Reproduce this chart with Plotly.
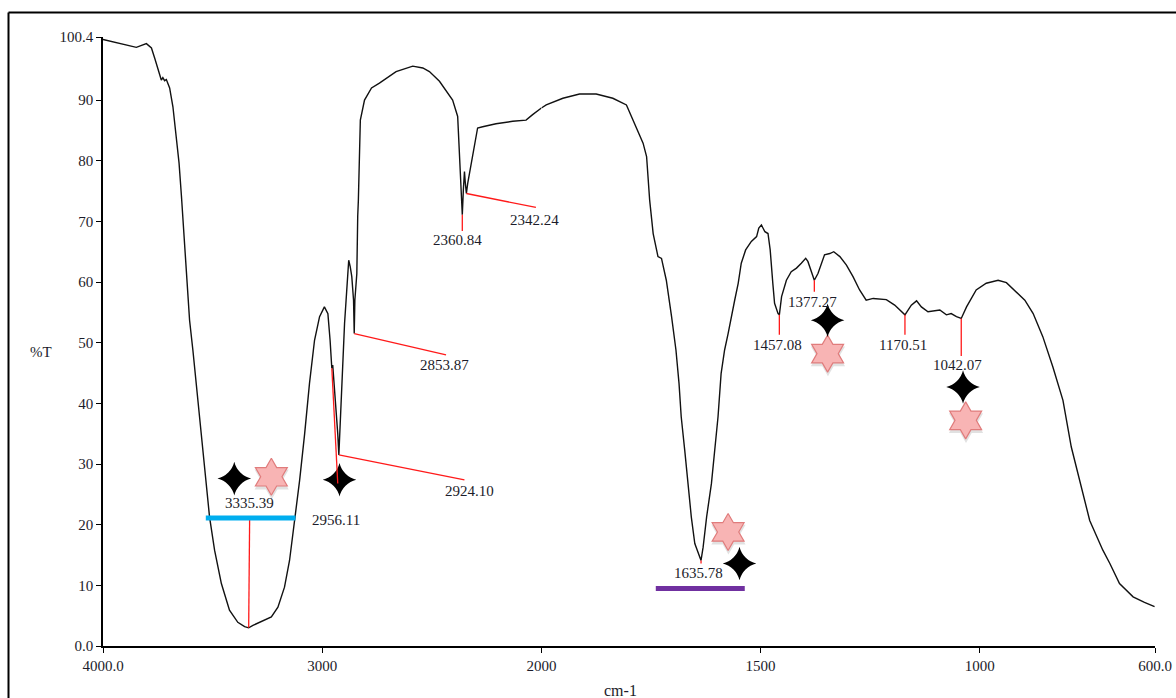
import plotly.graph_objects as go
from plotly.subplots import make_subplots

# ---------------- spectrum (wavenumber cm-1, %T) ----------------
wavenumber = [
    4000, 3939, 3893, 3848, 3802, 3779, 3764, 3749, 3734, 3727, 3719, 3711, 3705,
    3696, 3681, 3665, 3653, 3642, 3632, 3623, 3615, 3605, 3590, 3567, 3536, 3514,
    3491, 3460, 3423, 3385, 3354, 3335.39, 3316, 3271, 3232, 3202, 3172, 3149,
    3126, 3103, 3080, 3058, 3035, 3012, 2990, 2974, 2964, 2960, 2956.11, 2952,
    2943, 2936, 2929, 2924.10, 2917, 2906, 2898, 2891, 2883, 2879, 2872, 2865,
    2857, 2853.87, 2851, 2842, 2838, 2835, 2826, 2807, 2775, 2739, 2663, 2587,
    2541, 2511, 2465, 2405, 2382, 2374, 2367, 2360.84, 2356, 2351, 2347, 2342.24,
    2336, 2314, 2291, 2268, 2207, 2131, 2070, 2040, 2000,
    1989, 1951, 1913, 1875, 1837, 1806, 1791, 1768, 1760, 1753, 1745, 1734, 1726,
    1715, 1703, 1693, 1686, 1681, 1673, 1666, 1658, 1650, 1635.78, 1631, 1623,
    1612, 1605, 1597, 1590, 1582, 1574, 1567, 1559, 1551, 1544, 1534, 1521, 1509,
    1504, 1498, 1490, 1483, 1478, 1472, 1468, 1460, 1457.08, 1452, 1441, 1430,
    1418, 1407, 1397, 1392, 1386, 1377.27, 1369, 1361, 1354, 1342, 1333, 1319,
    1304, 1289, 1274, 1259, 1243, 1213, 1194, 1170.51, 1156, 1144, 1133, 1118,
    1091, 1076, 1065, 1053, 1042.07, 1030, 1008, 985, 958, 939, 916, 897, 878,
    856, 833, 810, 791, 772, 749, 719, 703, 681, 650, 624, 601,
]
transmittance = [
    100.0, 99.5, 99.1, 98.7, 99.3, 98.6, 96.9, 95.0, 93.3, 93.7, 93.2, 93.4, 92.7,
    92.0, 88.9, 84.0, 79.6, 74.1, 68.6, 63.1, 57.6, 53.7, 48.8, 40.5, 29.5, 21.3,
    15.8, 10.3, 5.9, 3.9, 3.2, 3.0, 3.4, 4.2, 4.8, 6.4, 9.7, 14.1,
    20.7, 27.3, 35.0, 43.3, 50.4, 54.3, 55.9, 54.8, 50.4, 47.5, 45.8, 46.3,
    42.0, 39.4, 35.0, 31.5, 37.8, 46.0, 53.2, 57.0, 62.5, 63.6, 62.5, 60.9,
    57.0, 51.5, 57.0, 61.4, 70.8, 73.5, 86.7, 90.0, 92.0, 92.8, 94.7, 95.6,
    95.3, 94.7, 93.1, 90.0, 87.3, 81.8, 75.2, 71.1, 75.2, 78.2, 76.3, 74.6,
    76.3, 80.7, 85.4, 85.6, 86.1, 86.5, 86.7, 87.6, 88.7,
    89.2, 90.3, 91.0, 91.0, 90.3, 89.2, 86.7, 82.9, 80.7, 73.5, 68.0, 64.2, 63.9,
    60.3, 54.3, 48.8, 43.3, 37.8, 32.3, 26.8, 21.3, 16.9, 14.1, 16.3, 21.3,
    26.8, 32.3, 37.8, 44.9, 48.8, 51.5, 54.3, 57.0, 59.8, 63.1, 65.3, 66.7, 67.5,
    68.9, 69.4, 68.3, 68.0, 65.3, 59.8, 56.5, 54.8, 54.6, 57.6, 60.3, 61.7,
    62.3, 63.1, 63.9, 63.4, 62.0, 60.3, 61.4, 63.1, 64.5, 64.7, 65.0, 64.2,
    62.8, 60.9, 58.7, 57.0, 57.3, 57.1, 56.2, 54.6, 56.2, 56.9, 55.9, 55.1,
    55.4, 54.6, 54.8, 54.3, 54.0, 55.9, 58.7, 59.8, 60.3, 59.9, 58.4, 57.0, 54.8,
    51.0, 46.0, 40.5, 32.8, 27.3, 20.7, 15.8, 13.6, 10.3, 8.1, 7.2, 6.5,
]

# ---------------- labelled peaks ----------------
peak_labels = ["3335.39", "2956.11", "2924.10", "2853.87", "2360.84", "2342.24",
               "1635.78", "1457.08", "1377.27", "1170.51", "1042.07"]
peak_wn = [float(s) for s in peak_labels]
peak_T = [3.0, 45.8, 31.5, 51.5, 71.1, 74.6, 14.1, 54.6, 60.3, 54.6, 54.0]

# leader line end points and label anchors
leader_end_wn = [3331, 2929, 2351, 2435, 2360.84, 2025, 1635.78, 1457.08, 1377.27, 1170.51, 1042.07]
leader_end_T = [21.1, 26.8, 27.4, 48.0, 68.4, 72.3, 13.6, 51.3, 58.4, 51.3, 47.8]
label_wn = [3331, 2935, 2329, 2443, 2384, 2030, 1642, 1461, 1381, 1176, 1050]
label_T = [23.5, 20.7, 25.5, 46.3, 66.9, 70.2, 12.0, 49.6, 56.7, 49.6, 46.3]

# band bars
blue_band = [3531, 3122]
blue_band_T = 21.1
purple_band = [1739, 1536]
purple_band_T = 9.5

# symbols
black_star_wn = [3401, 2921, 1548, 1347, 1038]
black_star_T = [27.6, 27.4, 13.6, 53.7, 42.7]
pink_star_wn = [3232, 1574, 1347, 1032]
pink_star_T = [27.9, 18.8, 48.2, 37.2]

# axis ticks
y_ticks = [0, 10, 20, 30, 40, 50, 60, 70, 80, 90, 100.4]
y_ticktext = ["0.0", "10", "20", "30", "40", "50", "60", "70", "80", "90", "100.4"]
x_hi_ticks = [4000, 3000]
x_hi_ticktext = ["4000.0", "3000"]
x_lo_ticks = [2000, 1500, 1000, 600]
x_lo_ticktext = ["2000", "1500", "1000", "600.0"]

SPLIT = 2000
W, H = 1176, 698
ML, MR, MT, MB = 103, 21, 37, 52
SERIF = "Liberation Serif, Times New Roman, serif"
TXT = "#1c1c2a"

split_frac = (541.7 - 103.3) / (W - ML - MR)

fig = make_subplots(rows=1, cols=2, shared_yaxes=True, horizontal_spacing=0,
                    column_widths=[split_frac, 1 - split_frac])


def axis_of(wn):
    return "x" if wn > SPLIT else "x2"


def col_of(wn):
    return 1 if wn > SPLIT else 2


# spectrum, drawn on both wavenumber scales
hi = [(w, t) for w, t in zip(wavenumber, transmittance) if w >= SPLIT]
lo = [(w, t) for w, t in zip(wavenumber, transmittance) if w <= SPLIT]
for part, col in ((hi, 1), (lo, 2)):
    fig.add_trace(go.Scatter(x=[p[0] for p in part], y=[p[1] for p in part],
                             mode="lines", line=dict(color="#111111", width=1.4),
                             showlegend=False, hoverinfo="skip"), row=1, col=col)

# red leader lines and peak labels
for lab, w0, t0, w1, t1, lw, lt in zip(peak_labels, peak_wn, peak_T, leader_end_wn,
                                       leader_end_T, label_wn, label_T):
    ax = axis_of(w0)
    fig.add_shape(type="line", xref=ax, yref="y", x0=w0, y0=t0, x1=w1, y1=t1,
                  line=dict(color="#ff1a1a", width=1.3), layer="above")
    fig.add_annotation(xref=ax, yref="y", x=lw, y=lt, text=lab, showarrow=False,
                       font=dict(family=SERIF, size=15, color=TXT),
                       xanchor="center", yanchor="middle")

# band bars
fig.add_shape(type="line", xref="x", yref="y", x0=blue_band[0], x1=blue_band[1],
              y0=blue_band_T, y1=blue_band_T, line=dict(color="#00aeef", width=5))
fig.add_shape(type="line", xref="x2", yref="y", x0=purple_band[0], x1=purple_band[1],
              y0=purple_band_T, y1=purple_band_T, line=dict(color="#7030a0", width=5))


def add_markers(wns, ts, **marker):
    for col in (1, 2):
        xs = [w for w in wns if col_of(w) == col]
        ys = [t for w, t in zip(wns, ts) if col_of(w) == col]
        if xs:
            fig.add_trace(go.Scatter(x=xs, y=ys, mode="markers", marker=marker,
                                     showlegend=False, hoverinfo="skip"), row=1, col=col)


# soft shadow under the pink stars
add_markers([w - 1.5 if w > SPLIT else w - 0.8 for w in pink_star_wn],
            [t - 0.45 for t in pink_star_T],
            symbol="hexagram", size=30, color="rgba(120,120,120,0.22)",
            line=dict(width=0))
add_markers(pink_star_wn, pink_star_T, symbol="hexagram", size=28,
            color="#f8b4b4", line=dict(color="#e07c7c", width=1.2))
add_markers(black_star_wn, black_star_T, symbol="star-diamond", size=24,
            color="#000000", line=dict(width=0))

axis_common = dict(showline=True, linecolor="#000000", linewidth=1.5, showgrid=False,
                   zeroline=False, ticks="outside", ticklen=5, tickcolor="#000000",
                   tickwidth=1.2, automargin=False,
                   tickfont=dict(family=SERIF, size=15, color=TXT))

fig.update_xaxes(range=[4000, SPLIT], tickmode="array", tickvals=x_hi_ticks,
                 ticktext=x_hi_ticktext, **axis_common, row=1, col=1)
fig.update_xaxes(range=[SPLIT, 600], tickmode="array", tickvals=x_lo_ticks,
                 ticktext=x_lo_ticktext, **axis_common, row=1, col=2)
fig.update_yaxes(range=[0, 100.4], tickmode="array", tickvals=y_ticks,
                 ticktext=y_ticktext, **axis_common, row=1, col=1)
fig.update_yaxes(showline=False, ticks="", showticklabels=False, showgrid=False,
                 zeroline=False, automargin=False, row=1, col=2)

plot_w = W - ML - MR
plot_h = H - MT - MB


def px_x(px):
    return (px - ML) / plot_w


def px_y(py):
    return (H - MB - py) / plot_h


# axis titles
fig.add_annotation(xref="paper", yref="paper", x=px_x(620), y=px_y(690), text="cm-1",
                   showarrow=False, font=dict(family=SERIF, size=16, color=TXT),
                   xanchor="center", yanchor="middle")
fig.add_annotation(xref="paper", yref="paper", x=px_x(41), y=px_y(352), text="%T",
                   showarrow=False, font=dict(family=SERIF, size=15, color=TXT),
                   xanchor="center", yanchor="middle")

# outer frame (left and top edges)
fig.add_shape(type="line", xref="paper", yref="paper", x0=px_x(8.5), x1=px_x(8.5),
              y0=px_y(12.5), y1=px_y(720), line=dict(color="#000000", width=2))
fig.add_shape(type="line", xref="paper", yref="paper", x0=px_x(8.5), x1=px_x(1200),
              y0=px_y(12.5), y1=px_y(12.5), line=dict(color="#000000", width=2))

fig.update_layout(width=W, height=H, margin=dict(l=ML, r=MR, t=MT, b=MB),
                  paper_bgcolor="white", plot_bgcolor="white", showlegend=False)

fig.write_html("out.html")
